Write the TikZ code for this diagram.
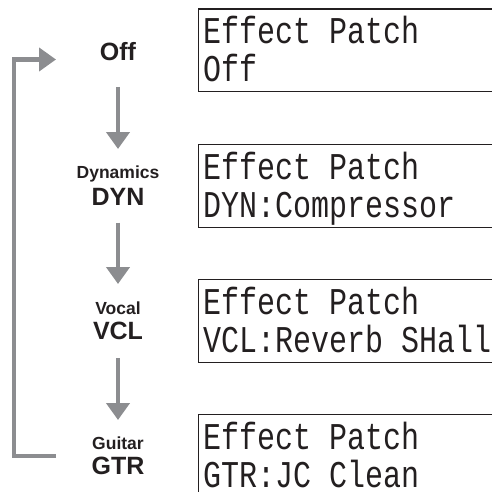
\documentclass[tikz,border=0pt]{standalone}
\usepackage{fontspec}
\setmainfont{Liberation Sans}
\newfontfamily\lcdfont{Liberation Mono}
\usetikzlibrary{arrows.meta}
\definecolor{arrowgray}{RGB}{140,141,144}
\definecolor{inkdark}{RGB}{35,31,32}
\tikzset{
  biglabel/.style={font=\bfseries\fontsize{25}{25}\selectfont, inner sep=0pt, anchor=base, text=inkdark},
  smalllabel/.style={font=\bfseries\fontsize{17.5}{17.5}\selectfont, inner sep=0pt, anchor=base, text=inkdark},
  flow/.style={draw=arrowgray, line width=4.8pt, -{Triangle[width=23pt,length=17pt]}},
  loopflow/.style={flow, line width=4.4pt},
  lcdbox/.style={draw=inkdark, line width=1.3pt, anchor=north west, minimum width=320pt, minimum height=82.5pt, inner sep=0pt},
  lcdtext/.style={font=\lcdfont\fontsize{30}{30}\selectfont, inner sep=0pt, anchor=base west, text=inkdark}
}
\newcommand{\lcdline}[1]{\scalebox{1}[1.26]{#1}}
\begin{document}
\begin{tikzpicture}[x=1pt,y=-1pt]
\useasboundingbox (0,0) rectangle (492,492);
\clip (0,0) rectangle (492,492);
% labels
\node[biglabel] (off) at (118,61) {Off};
\node[smalllabel] (dynS) at (118,178) {Dynamics};
\node[biglabel] (dyn) at (118,205) {DYN};
\node[smalllabel] (vclS) at (118,314) {Vocal};
\node[biglabel] (vcl) at (118,339.3) {VCL};
\node[smalllabel] (gtrS) at (118,449) {Guitar};
\node[biglabel] (gtr) at (118,474) {GTR};
% arrows
\draw[flow] ([yshift=-26pt]off.base) -- ([yshift=29pt]dynS.base);
\draw[flow] ([yshift=-17.7pt]dyn.base) -- ([yshift=30pt]vclS.base);
\draw[flow] ([yshift=-18.7pt]vcl.base) -- ([yshift=29pt]gtrS.base);
\coordinate (lstart) at (56,456);
\coordinate (lend) at (56,59.5);
\draw[loopflow] (lstart) -- (14,456) -- (14,59.5) -- (lend);
% LCD displays
\node[lcdbox] (lcd1) at (197.5,8.3) {};
\node[lcdtext] (lcd1a) at (203.5,43.8) {\lcdline{Effect Patch}};
\node[lcdtext] (lcd1b) at (203.5,81.8) {\lcdline{Off}};
\node[lcdbox] (lcd2) at (197.5,144) {};
\node[lcdtext] (lcd2a) at (203.5,179.5) {\lcdline{Effect Patch}};
\node[lcdtext] (lcd2b) at (203.5,217.5) {\lcdline{DYN:Compressor}};
\node[lcdbox] (lcd3) at (197.5,279) {};
\node[lcdtext] (lcd3a) at (203.5,314.5) {\lcdline{Effect Patch}};
\node[lcdtext] (lcd3b) at (203.5,352.5) {\lcdline{VCL:Reverb SHall}};
\node[lcdbox] (lcd4) at (197.5,414) {};
\node[lcdtext] (lcd4a) at (203.5,449.5) {\lcdline{Effect Patch}};
\node[lcdtext] (lcd4b) at (203.5,487.5) {\lcdline{GTR:JC Clean}};
\end{tikzpicture}
\end{document}
